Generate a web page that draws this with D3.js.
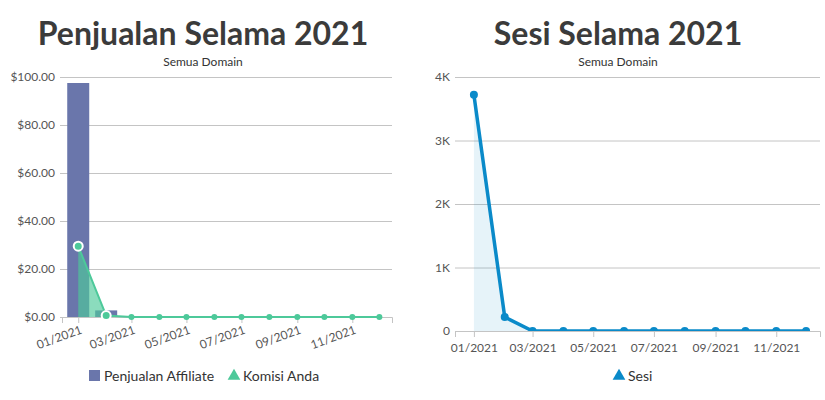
<!DOCTYPE html>
<html>
<head>
<meta charset="utf-8">
<script src="https://cdn.jsdelivr.net/npm/d3@7"></script>
<style>
  body { margin: 0; background: #fff; }
  svg text { font-family: Lato, "DejaVu Sans", sans-serif; }
</style>
</head>
<body>
<svg id="chart" width="825" height="400"></svg>
<script>
// data
const months = ["2021-01-01", "2021-02-01", "2021-03-01", "2021-04-01", "2021-05-01", "2021-06-01",
                "2021-07-01", "2021-08-01", "2021-09-01", "2021-10-01", "2021-11-01", "2021-12-01"];
const penjualan = [97.5, 2.75, 0, 0, 0, 0, 0, 0, 0, 0, 0, 0];
const komisi = [29.5, 0.6, 0, 0, 0, 0, 0, 0, 0, 0, 0, 0];
const sesi = [3720, 220, 0, 0, 0, 0, 0, 0, 0, 0, 0, 0];
const salesTicks = [0, 20, 40, 60, 80, 100];
const sesiTicks = [0, 1000, 2000, 3000, 4000];
const xTickMonths = ["2021-01-01", "2021-03-01", "2021-05-01", "2021-07-01", "2021-09-01", "2021-11-01"];

const parse = d3.utcParse("%Y-%m-%d");
const dates = months.map(parse);
const xTicks = xTickMonths.map(parse);
const fmtMonth = d3.utcFormat("%m/%Y");

const purple = "#6a76ab", green = "#4dc99a", blue = "#0a8ac9";
const gridCol = "#c4c4c4", tickText = "#555";

const svg = d3.select("#chart");

// clip for the sesi markers, they get cut at the plot bottom
svg.append("defs").append("clipPath").attr("id", "clipSesi")
    .append("rect").attr("x", 440).attr("y", 60).attr("width", 385).attr("height", 331 - 60);

function titles(cx, title) {
    svg.append("text").attr("x", cx).attr("y", 45).attr("text-anchor", "middle")
        .style("font-size", "32px").style("font-weight", "bold").attr("fill", "#3b3b3b").text(title);
    svg.append("text").attr("x", cx).attr("y", 66).attr("text-anchor", "middle")
        .style("font-size", "12px").attr("fill", "#333").text("Semua Domain");
}

// ---------- left: Penjualan ----------
titles(203, "Penjualan Selama 2021");

const x1 = d3.scaleUtc().domain([parse("2020-12-14"), parse("2021-12-15")]).range([62, 392]);
const y1 = d3.scaleLinear().domain([0, 100]).range([317, 77]);

const g1 = svg.append("g");
const yAxis1 = d3.axisLeft(y1).tickValues(salesTicks).tickFormat(d => "$" + d3.format(".2f")(d))
    .tickSize(-(392 - 60)).tickPadding(5);
g1.append("g").attr("transform", "translate(60,0)").call(yAxis1)
    .call(a => a.select(".domain").remove())
    .call(a => a.selectAll("line").attr("stroke", gridCol))
    .call(a => a.selectAll("text").attr("fill", tickText).style("font-size", "12px").style("font-family", "Lato, sans-serif"));

const xAxis1 = d3.axisBottom(x1).tickValues(xTicks).tickFormat(fmtMonth).tickSize(6);
g1.append("g").attr("transform", "translate(0,317)").call(xAxis1)
    .call(a => a.select(".domain").attr("stroke", gridCol))
    .call(a => a.selectAll("line").attr("stroke", gridCol))
    .call(a => a.selectAll("text").attr("fill", tickText).style("font-size", "12px").style("font-family", "Lato, sans-serif")
        .attr("text-anchor", "end").attr("dy", null).attr("y", 0)
        .attr("transform", "translate(4,16) rotate(-20)"));

const barW = 22;
g1.selectAll(".bar").data(dates).enter().append("rect")
    .attr("class", "bar")
    .attr("x", (d) => x1(d) - barW / 2)
    .attr("width", barW)
    .attr("y", (d, i) => y1(penjualan[i]))
    .attr("height", (d, i) => y1(0) - y1(penjualan[i]))
    .attr("fill", purple);

const area1 = d3.area().x(d => x1(d)).y0(y1(0)).y1((d, i) => y1(komisi[i]));
const line1 = d3.line().x(d => x1(d)).y((d, i) => y1(komisi[i]));
g1.append("path").datum(dates).attr("d", area1).attr("fill", green).attr("fill-opacity", 0.65);
g1.append("path").datum(dates).attr("d", line1).attr("fill", "none").attr("stroke", green).attr("stroke-width", 2);
g1.selectAll(".kp").data(dates).enter().append("circle")
    .attr("cx", d => x1(d))
    .attr("cy", (d, i) => y1(komisi[i]))
    .attr("r", (d, i) => i < 2 ? 4.5 : 3)
    .attr("fill", green)
    .attr("stroke", (d, i) => i < 2 ? "#fff" : "none")
    .attr("stroke-width", 2);

// legend left
svg.append("rect").attr("x", 89).attr("y", 370).attr("width", 11).attr("height", 11).attr("fill", purple);
svg.append("text").attr("x", 104).attr("y", 381).style("font-size", "14px").attr("fill", "#333").text("Penjualan Affiliate");
svg.append("path").attr("d", d3.symbol(d3.symbolTriangle, 70)()).attr("transform", "translate(234,376)").attr("fill", green);
svg.append("text").attr("x", 243).attr("y", 381).style("font-size", "14px").attr("fill", "#333").text("Komisi Anda");

// ---------- right: Sesi ----------
titles(618, "Sesi Selama 2021");

const x2 = d3.scaleUtc().domain([parse("2020-12-13"), parse("2021-12-15")]).range([455, 820]);
const y2 = d3.scaleLinear().domain([0, 4000]).range([331, 77]);

const g2 = svg.append("g");
const yAxis2 = d3.axisLeft(y2).tickValues(sesiTicks).tickFormat(d => d === 0 ? "0" : (d / 1000) + "K")
    .tickSize(-(820 - 455)).tickPadding(5);
g2.append("g").attr("transform", "translate(455,0)").call(yAxis2)
    .call(a => a.select(".domain").remove())
    .call(a => a.selectAll("line").attr("stroke", gridCol))
    .call(a => a.selectAll("text").attr("fill", tickText).style("font-size", "12px").style("font-family", "Lato, sans-serif"));

const xAxis2 = d3.axisBottom(x2).tickValues(xTicks).tickFormat(fmtMonth).tickSize(6);
g2.append("g").attr("transform", "translate(0,331)").call(xAxis2)
    .call(a => a.select(".domain").attr("stroke", gridCol))
    .call(a => a.selectAll("line").attr("stroke", gridCol))
    .call(a => a.selectAll("text").attr("fill", tickText).style("font-size", "12px").style("font-family", "Lato, sans-serif")
        .attr("y", 12));

const area2 = d3.area().x(d => x2(d)).y0(y2(0)).y1((d, i) => y2(sesi[i]));
const line2 = d3.line().x(d => x2(d)).y((d, i) => y2(sesi[i]));
const plot2 = g2.append("g").attr("clip-path", "url(#clipSesi)");
plot2.append("path").datum(dates).attr("d", area2).attr("fill", blue).attr("fill-opacity", 0.1);
plot2.append("path").datum(dates).attr("d", line2).attr("fill", "none").attr("stroke", blue)
    .attr("stroke-width", 3.5).attr("stroke-linejoin", "round");
plot2.selectAll(".sp").data(dates).enter().append("circle")
    .attr("cx", d => x2(d))
    .attr("cy", (d, i) => y2(sesi[i]))
    .attr("r", 4)
    .attr("fill", blue);

// legend right
svg.append("path").attr("d", d3.symbol(d3.symbolTriangle, 70)()).attr("transform", "translate(619,376)").attr("fill", blue);
svg.append("text").attr("x", 628).attr("y", 381).style("font-size", "14px").attr("fill", "#333").text("Sesi");
</script>
</body>
</html>
